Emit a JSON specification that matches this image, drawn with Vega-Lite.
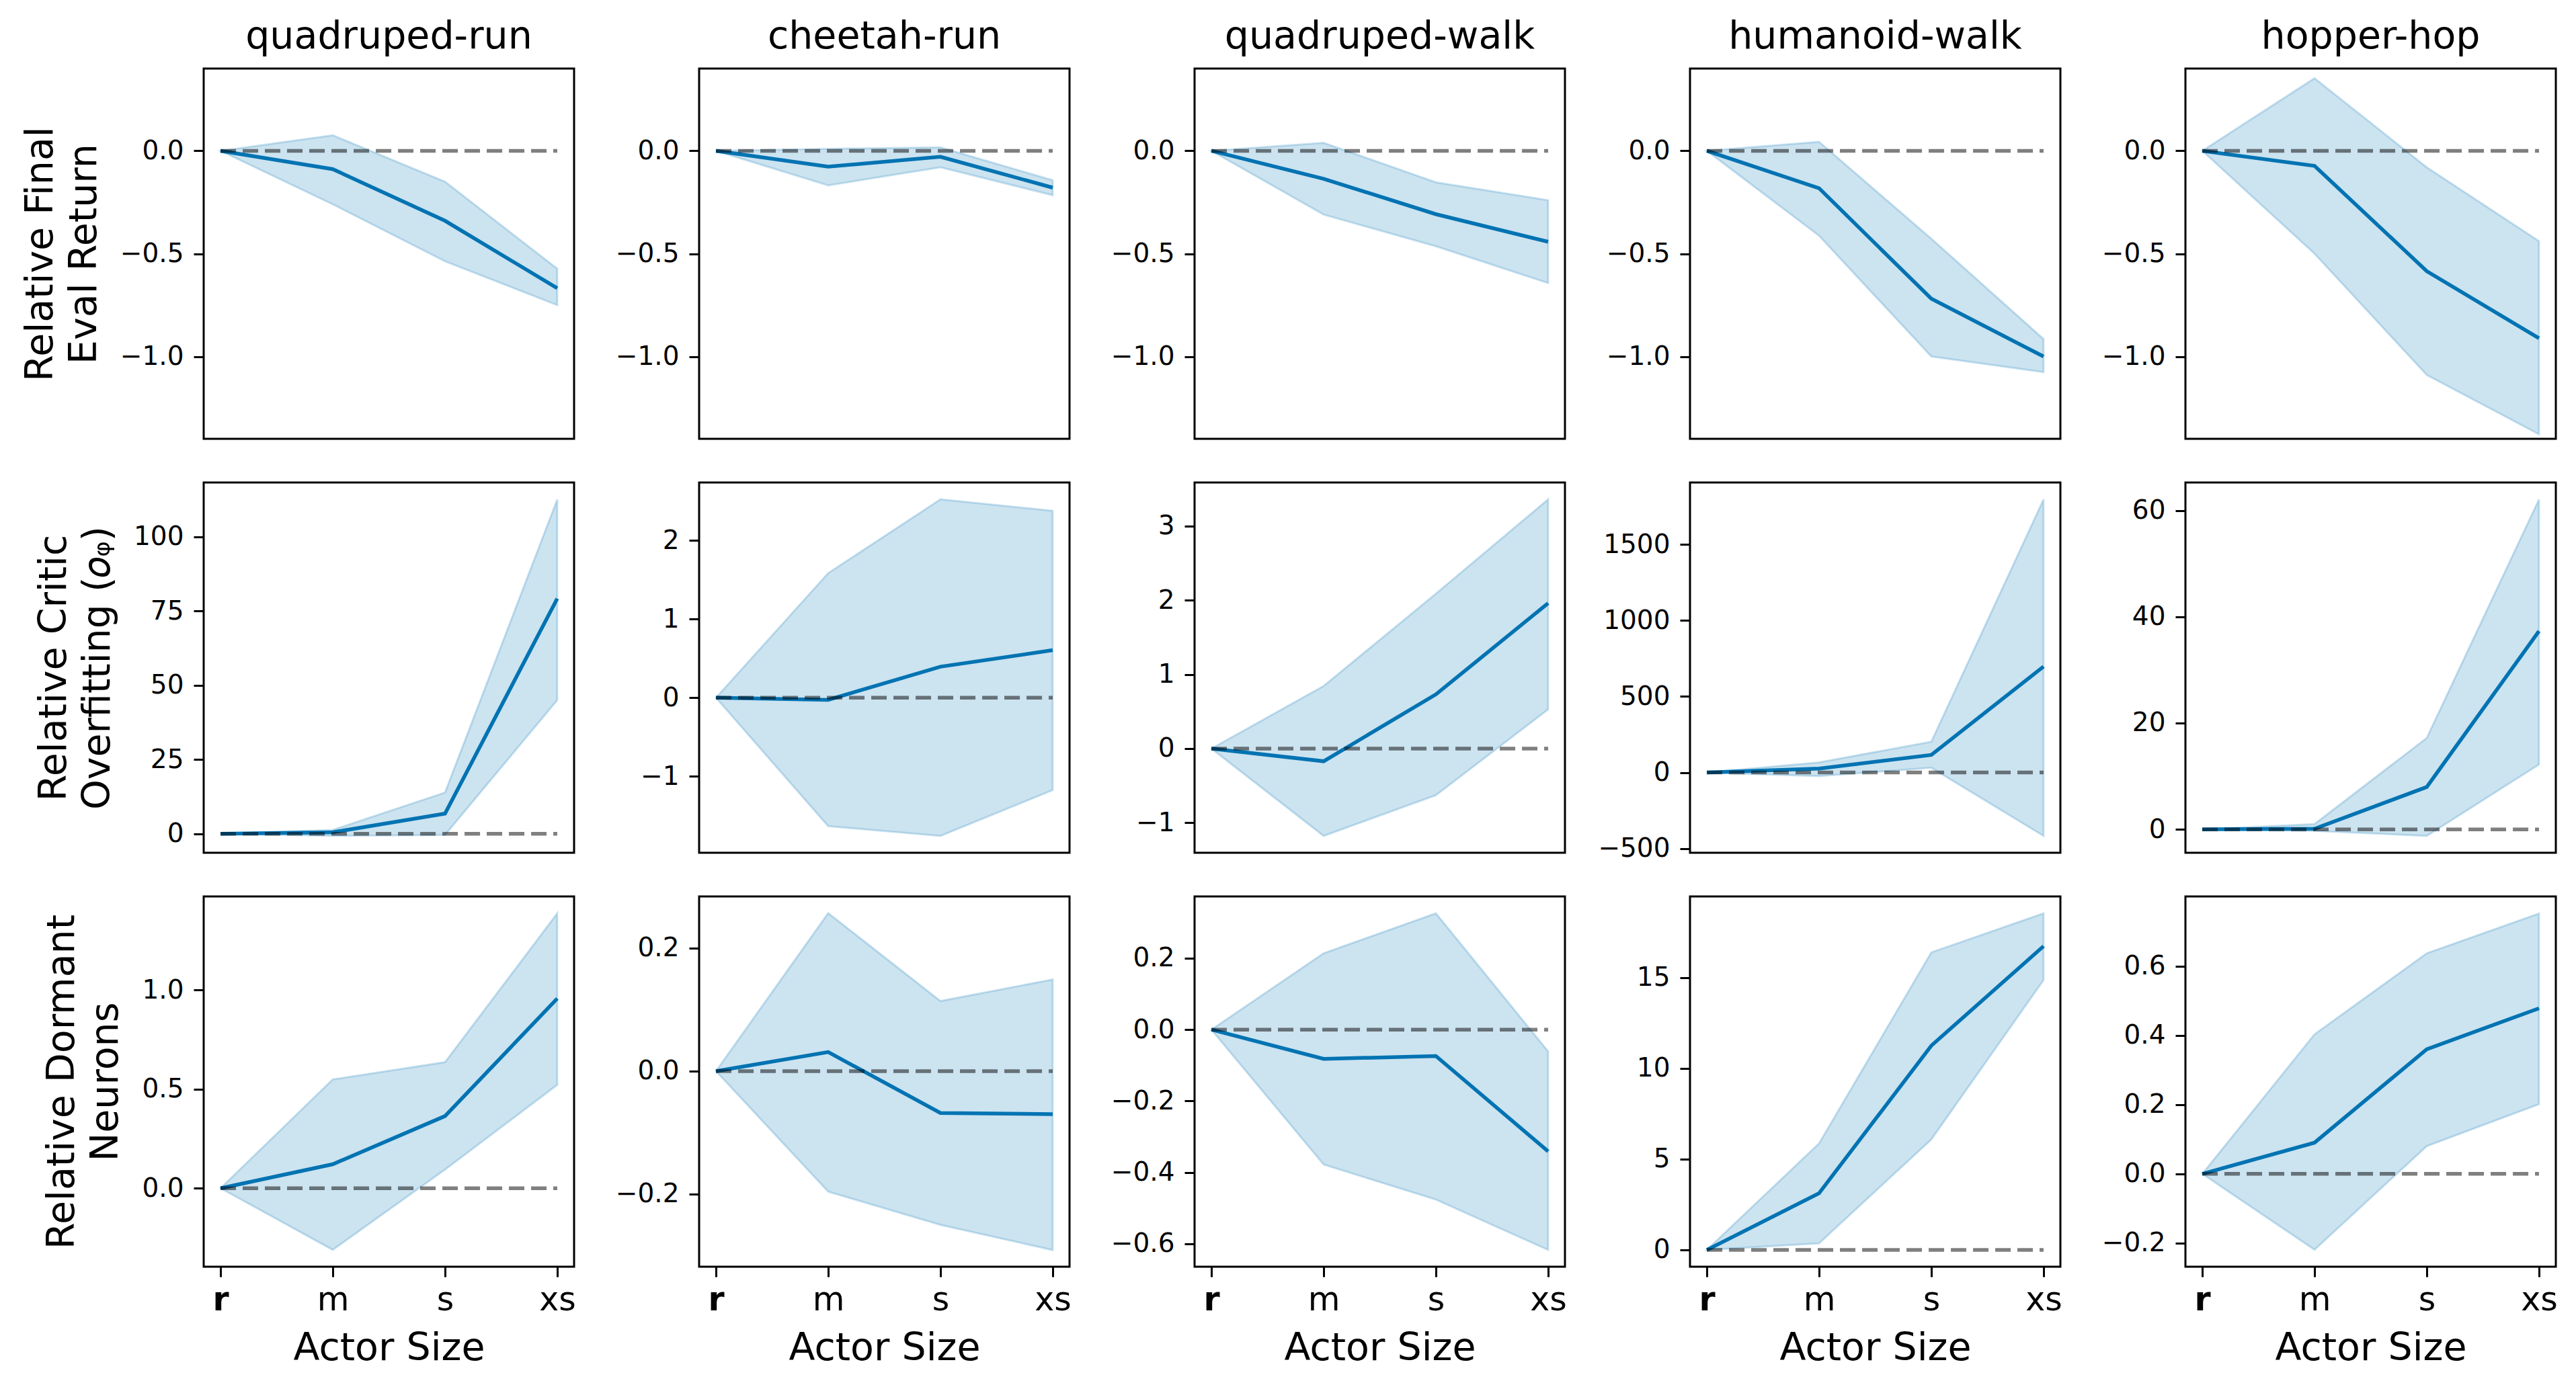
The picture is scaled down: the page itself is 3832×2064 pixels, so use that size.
{
  "$schema": "https://vega.github.io/schema/vega-lite/v6.json",
  "background": "white",
  "padding": {"left": 29, "top": 24, "right": 10, "bottom": 10},
  "data": {"values": [
    {"task": "quadruped-run", "metric": "ret", "size": "r", "mean": 0, "lo": 0, "hi": 0},
    {"task": "quadruped-run", "metric": "ret", "size": "m", "mean": -0.089, "lo": -0.26, "hi": 0.076},
    {"task": "quadruped-run", "metric": "ret", "size": "s", "mean": -0.34, "lo": -0.537, "hi": -0.15},
    {"task": "quadruped-run", "metric": "ret", "size": "xs", "mean": -0.668, "lo": -0.75, "hi": -0.573},
    {"task": "quadruped-run", "metric": "over", "size": "r", "mean": 0, "lo": 0, "hi": 0},
    {"task": "quadruped-run", "metric": "over", "size": "m", "mean": 0.5, "lo": -0.7, "hi": 1.3},
    {"task": "quadruped-run", "metric": "over", "size": "s", "mean": 6.8, "lo": -0.4, "hi": 13.9},
    {"task": "quadruped-run", "metric": "over", "size": "xs", "mean": 79.2, "lo": 45, "hi": 112.6},
    {"task": "quadruped-run", "metric": "dorm", "size": "r", "mean": 0, "lo": 0, "hi": 0},
    {"task": "quadruped-run", "metric": "dorm", "size": "m", "mean": 0.121, "lo": -0.311, "hi": 0.549},
    {"task": "quadruped-run", "metric": "dorm", "size": "s", "mean": 0.364, "lo": 0.094, "hi": 0.636},
    {"task": "quadruped-run", "metric": "dorm", "size": "xs", "mean": 0.957, "lo": 0.521, "hi": 1.387},
    {"task": "cheetah-run", "metric": "ret", "size": "r", "mean": 0, "lo": 0, "hi": 0},
    {"task": "cheetah-run", "metric": "ret", "size": "m", "mean": -0.077, "lo": -0.168, "hi": 0.01},
    {"task": "cheetah-run", "metric": "ret", "size": "s", "mean": -0.029, "lo": -0.08, "hi": 0.017},
    {"task": "cheetah-run", "metric": "ret", "size": "xs", "mean": -0.179, "lo": -0.216, "hi": -0.143},
    {"task": "cheetah-run", "metric": "over", "size": "r", "mean": 0, "lo": 0, "hi": 0},
    {"task": "cheetah-run", "metric": "over", "size": "m", "mean": -0.027, "lo": -1.636, "hi": 1.586},
    {"task": "cheetah-run", "metric": "over", "size": "s", "mean": 0.395, "lo": -1.759, "hi": 2.525},
    {"task": "cheetah-run", "metric": "over", "size": "xs", "mean": 0.605, "lo": -1.176, "hi": 2.379},
    {"task": "cheetah-run", "metric": "dorm", "size": "r", "mean": 0, "lo": 0, "hi": 0},
    {"task": "cheetah-run", "metric": "dorm", "size": "m", "mean": 0.031, "lo": -0.196, "hi": 0.257},
    {"task": "cheetah-run", "metric": "dorm", "size": "s", "mean": -0.068, "lo": -0.25, "hi": 0.114},
    {"task": "cheetah-run", "metric": "dorm", "size": "xs", "mean": -0.07, "lo": -0.291, "hi": 0.149},
    {"task": "quadruped-walk", "metric": "ret", "size": "r", "mean": 0, "lo": 0, "hi": 0},
    {"task": "quadruped-walk", "metric": "ret", "size": "m", "mean": -0.136, "lo": -0.31, "hi": 0.039},
    {"task": "quadruped-walk", "metric": "ret", "size": "s", "mean": -0.308, "lo": -0.464, "hi": -0.153},
    {"task": "quadruped-walk", "metric": "ret", "size": "xs", "mean": -0.442, "lo": -0.643, "hi": -0.24},
    {"task": "quadruped-walk", "metric": "over", "size": "r", "mean": 0, "lo": 0, "hi": 0},
    {"task": "quadruped-walk", "metric": "over", "size": "m", "mean": -0.171, "lo": -1.178, "hi": 0.845},
    {"task": "quadruped-walk", "metric": "over", "size": "s", "mean": 0.731, "lo": -0.629, "hi": 2.09},
    {"task": "quadruped-walk", "metric": "over", "size": "xs", "mean": 1.961, "lo": 0.528, "hi": 3.362},
    {"task": "quadruped-walk", "metric": "dorm", "size": "r", "mean": 0, "lo": 0, "hi": 0},
    {"task": "quadruped-walk", "metric": "dorm", "size": "m", "mean": -0.082, "lo": -0.378, "hi": 0.214},
    {"task": "quadruped-walk", "metric": "dorm", "size": "s", "mean": -0.074, "lo": -0.476, "hi": 0.326},
    {"task": "quadruped-walk", "metric": "dorm", "size": "xs", "mean": -0.341, "lo": -0.617, "hi": -0.061},
    {"task": "humanoid-walk", "metric": "ret", "size": "r", "mean": 0, "lo": 0, "hi": 0},
    {"task": "humanoid-walk", "metric": "ret", "size": "m", "mean": -0.182, "lo": -0.413, "hi": 0.044},
    {"task": "humanoid-walk", "metric": "ret", "size": "s", "mean": -0.719, "lo": -1.0, "hi": -0.427},
    {"task": "humanoid-walk", "metric": "ret", "size": "xs", "mean": -1.0, "lo": -1.076, "hi": -0.915},
    {"task": "humanoid-walk", "metric": "over", "size": "r", "mean": 0, "lo": 0, "hi": 0},
    {"task": "humanoid-walk", "metric": "over", "size": "m", "mean": 26, "lo": -24, "hi": 67},
    {"task": "humanoid-walk", "metric": "over", "size": "s", "mean": 116, "lo": 31, "hi": 203},
    {"task": "humanoid-walk", "metric": "over", "size": "xs", "mean": 697, "lo": -417, "hi": 1797},
    {"task": "humanoid-walk", "metric": "dorm", "size": "r", "mean": 0, "lo": 0, "hi": 0},
    {"task": "humanoid-walk", "metric": "dorm", "size": "m", "mean": 3.12, "lo": 0.36, "hi": 5.87},
    {"task": "humanoid-walk", "metric": "dorm", "size": "s", "mean": 11.25, "lo": 6.08, "hi": 16.39},
    {"task": "humanoid-walk", "metric": "dorm", "size": "xs", "mean": 16.73, "lo": 14.86, "hi": 18.54},
    {"task": "hopper-hop", "metric": "ret", "size": "r", "mean": 0, "lo": 0, "hi": 0},
    {"task": "hopper-hop", "metric": "ret", "size": "m", "mean": -0.073, "lo": -0.5, "hi": 0.353},
    {"task": "hopper-hop", "metric": "ret", "size": "s", "mean": -0.585, "lo": -1.09, "hi": -0.08},
    {"task": "hopper-hop", "metric": "ret", "size": "xs", "mean": -0.911, "lo": -1.378, "hi": -0.439},
    {"task": "hopper-hop", "metric": "over", "size": "r", "mean": 0, "lo": 0, "hi": 0},
    {"task": "hopper-hop", "metric": "over", "size": "m", "mean": 0.1, "lo": -0.3, "hi": 1.0},
    {"task": "hopper-hop", "metric": "over", "size": "s", "mean": 7.97, "lo": -1.24, "hi": 17.2},
    {"task": "hopper-hop", "metric": "over", "size": "xs", "mean": 37.3, "lo": 12.2, "hi": 62.1},
    {"task": "hopper-hop", "metric": "dorm", "size": "r", "mean": 0, "lo": 0, "hi": 0},
    {"task": "hopper-hop", "metric": "dorm", "size": "m", "mean": 0.09, "lo": -0.219, "hi": 0.403},
    {"task": "hopper-hop", "metric": "dorm", "size": "s", "mean": 0.36, "lo": 0.08, "hi": 0.637},
    {"task": "hopper-hop", "metric": "dorm", "size": "xs", "mean": 0.478, "lo": 0.201, "hi": 0.752}
  ]},
  "columns": 5,
  "spacing": {"row": 65, "column": 186},
  "bounds": "flush",
  "concat": [
    {"width": 551, "height": 551, "title": "quadruped-run",
     "transform": [{"filter": "datum.task === 'quadruped-run' && datum.metric === 'ret'"}],
     "encoding": {"x": {"field": "size", "type": "ordinal", "sort": ["r", "m", "s", "xs"], "scale": {"type": "point", "padding": 0.15}, "axis": null}},
     "layer": [
       {"mark": {"type": "area", "fill": "#0173b2", "fillOpacity": 0.2, "stroke": "#0173b2", "strokeOpacity": 0.2, "strokeWidth": 3},
        "encoding": {"y": {"field": "lo", "type": "quantitative", "title": ["Relative Final", "Eval Return"], "scale": {"domain": [-1.4, 0.4], "nice": false, "zero": false}, "axis": {"values": [-1, -0.5, 0], "format": ".1f"}}, "y2": {"field": "hi"}}},
       {"mark": {"type": "line", "color": "#0173b2", "strokeWidth": 5.5}, "encoding": {"y": {"field": "mean", "type": "quantitative", "title": ["Relative Final", "Eval Return"]}}},
       {"mark": {"type": "line", "color": "black", "opacity": 0.5, "strokeWidth": 5.5, "strokeDash": [23, 10]}, "encoding": {"y": {"datum": 0}}}
     ]},
    {"width": 551, "height": 551, "title": "cheetah-run",
     "transform": [{"filter": "datum.task === 'cheetah-run' && datum.metric === 'ret'"}],
     "encoding": {"x": {"field": "size", "type": "ordinal", "sort": ["r", "m", "s", "xs"], "scale": {"type": "point", "padding": 0.15}, "axis": null}},
     "layer": [
       {"mark": {"type": "area", "fill": "#0173b2", "fillOpacity": 0.2, "stroke": "#0173b2", "strokeOpacity": 0.2, "strokeWidth": 3},
        "encoding": {"y": {"field": "lo", "type": "quantitative", "title": null, "scale": {"domain": [-1.4, 0.4], "nice": false, "zero": false}, "axis": {"values": [-1, -0.5, 0], "format": ".1f"}}, "y2": {"field": "hi"}}},
       {"mark": {"type": "line", "color": "#0173b2", "strokeWidth": 5.5}, "encoding": {"y": {"field": "mean", "type": "quantitative", "title": null}}},
       {"mark": {"type": "line", "color": "black", "opacity": 0.5, "strokeWidth": 5.5, "strokeDash": [23, 10]}, "encoding": {"y": {"datum": 0}}}
     ]},
    {"width": 551, "height": 551, "title": "quadruped-walk",
     "transform": [{"filter": "datum.task === 'quadruped-walk' && datum.metric === 'ret'"}],
     "encoding": {"x": {"field": "size", "type": "ordinal", "sort": ["r", "m", "s", "xs"], "scale": {"type": "point", "padding": 0.15}, "axis": null}},
     "layer": [
       {"mark": {"type": "area", "fill": "#0173b2", "fillOpacity": 0.2, "stroke": "#0173b2", "strokeOpacity": 0.2, "strokeWidth": 3},
        "encoding": {"y": {"field": "lo", "type": "quantitative", "title": null, "scale": {"domain": [-1.4, 0.4], "nice": false, "zero": false}, "axis": {"values": [-1, -0.5, 0], "format": ".1f"}}, "y2": {"field": "hi"}}},
       {"mark": {"type": "line", "color": "#0173b2", "strokeWidth": 5.5}, "encoding": {"y": {"field": "mean", "type": "quantitative", "title": null}}},
       {"mark": {"type": "line", "color": "black", "opacity": 0.5, "strokeWidth": 5.5, "strokeDash": [23, 10]}, "encoding": {"y": {"datum": 0}}}
     ]},
    {"width": 551, "height": 551, "title": "humanoid-walk",
     "transform": [{"filter": "datum.task === 'humanoid-walk' && datum.metric === 'ret'"}],
     "encoding": {"x": {"field": "size", "type": "ordinal", "sort": ["r", "m", "s", "xs"], "scale": {"type": "point", "padding": 0.15}, "axis": null}},
     "layer": [
       {"mark": {"type": "area", "fill": "#0173b2", "fillOpacity": 0.2, "stroke": "#0173b2", "strokeOpacity": 0.2, "strokeWidth": 3},
        "encoding": {"y": {"field": "lo", "type": "quantitative", "title": null, "scale": {"domain": [-1.4, 0.4], "nice": false, "zero": false}, "axis": {"values": [-1, -0.5, 0], "format": ".1f"}}, "y2": {"field": "hi"}}},
       {"mark": {"type": "line", "color": "#0173b2", "strokeWidth": 5.5}, "encoding": {"y": {"field": "mean", "type": "quantitative", "title": null}}},
       {"mark": {"type": "line", "color": "black", "opacity": 0.5, "strokeWidth": 5.5, "strokeDash": [23, 10]}, "encoding": {"y": {"datum": 0}}}
     ]},
    {"width": 551, "height": 551, "title": "hopper-hop",
     "transform": [{"filter": "datum.task === 'hopper-hop' && datum.metric === 'ret'"}],
     "encoding": {"x": {"field": "size", "type": "ordinal", "sort": ["r", "m", "s", "xs"], "scale": {"type": "point", "padding": 0.15}, "axis": null}},
     "layer": [
       {"mark": {"type": "area", "fill": "#0173b2", "fillOpacity": 0.2, "stroke": "#0173b2", "strokeOpacity": 0.2, "strokeWidth": 3},
        "encoding": {"y": {"field": "lo", "type": "quantitative", "title": null, "scale": {"domain": [-1.4, 0.4], "nice": false, "zero": false}, "axis": {"values": [-1, -0.5, 0], "format": ".1f"}}, "y2": {"field": "hi"}}},
       {"mark": {"type": "line", "color": "#0173b2", "strokeWidth": 5.5}, "encoding": {"y": {"field": "mean", "type": "quantitative", "title": null}}},
       {"mark": {"type": "line", "color": "black", "opacity": 0.5, "strokeWidth": 5.5, "strokeDash": [23, 10]}, "encoding": {"y": {"datum": 0}}}
     ]},
    {"width": 551, "height": 551,
     "transform": [{"filter": "datum.task === 'quadruped-run' && datum.metric === 'over'"}],
     "encoding": {"x": {"field": "size", "type": "ordinal", "sort": ["r", "m", "s", "xs"], "scale": {"type": "point", "padding": 0.15}, "axis": null}},
     "layer": [
       {"mark": {"type": "area", "fill": "#0173b2", "fillOpacity": 0.2, "stroke": "#0173b2", "strokeOpacity": 0.2, "strokeWidth": 3},
        "encoding": {"y": {"field": "lo", "type": "quantitative", "title": ["Relative Critic", "Overfitting (𝑜ᵩ)"], "scale": {"domain": [-6.4, 118.3], "nice": false, "zero": false}, "axis": {"values": [0, 25, 50, 75, 100], "format": "d"}}, "y2": {"field": "hi"}}},
       {"mark": {"type": "line", "color": "#0173b2", "strokeWidth": 5.5}, "encoding": {"y": {"field": "mean", "type": "quantitative", "title": ["Relative Critic", "Overfitting (𝑜ᵩ)"]}}},
       {"mark": {"type": "line", "color": "black", "opacity": 0.5, "strokeWidth": 5.5, "strokeDash": [23, 10]}, "encoding": {"y": {"datum": 0}}}
     ]},
    {"width": 551, "height": 551,
     "transform": [{"filter": "datum.task === 'cheetah-run' && datum.metric === 'over'"}],
     "encoding": {"x": {"field": "size", "type": "ordinal", "sort": ["r", "m", "s", "xs"], "scale": {"type": "point", "padding": 0.15}, "axis": null}},
     "layer": [
       {"mark": {"type": "area", "fill": "#0173b2", "fillOpacity": 0.2, "stroke": "#0173b2", "strokeOpacity": 0.2, "strokeWidth": 3},
        "encoding": {"y": {"field": "lo", "type": "quantitative", "title": null, "scale": {"domain": [-1.973, 2.739], "nice": false, "zero": false}, "axis": {"values": [-1, 0, 1, 2], "format": "d"}}, "y2": {"field": "hi"}}},
       {"mark": {"type": "line", "color": "#0173b2", "strokeWidth": 5.5}, "encoding": {"y": {"field": "mean", "type": "quantitative", "title": null}}},
       {"mark": {"type": "line", "color": "black", "opacity": 0.5, "strokeWidth": 5.5, "strokeDash": [23, 10]}, "encoding": {"y": {"datum": 0}}}
     ]},
    {"width": 551, "height": 551,
     "transform": [{"filter": "datum.task === 'quadruped-walk' && datum.metric === 'over'"}],
     "encoding": {"x": {"field": "size", "type": "ordinal", "sort": ["r", "m", "s", "xs"], "scale": {"type": "point", "padding": 0.15}, "axis": null}},
     "layer": [
       {"mark": {"type": "area", "fill": "#0173b2", "fillOpacity": 0.2, "stroke": "#0173b2", "strokeOpacity": 0.2, "strokeWidth": 3},
        "encoding": {"y": {"field": "lo", "type": "quantitative", "title": null, "scale": {"domain": [-1.405, 3.589], "nice": false, "zero": false}, "axis": {"values": [-1, 0, 1, 2, 3], "format": "d"}}, "y2": {"field": "hi"}}},
       {"mark": {"type": "line", "color": "#0173b2", "strokeWidth": 5.5}, "encoding": {"y": {"field": "mean", "type": "quantitative", "title": null}}},
       {"mark": {"type": "line", "color": "black", "opacity": 0.5, "strokeWidth": 5.5, "strokeDash": [23, 10]}, "encoding": {"y": {"datum": 0}}}
     ]},
    {"width": 551, "height": 551,
     "transform": [{"filter": "datum.task === 'humanoid-walk' && datum.metric === 'over'"}],
     "encoding": {"x": {"field": "size", "type": "ordinal", "sort": ["r", "m", "s", "xs"], "scale": {"type": "point", "padding": 0.15}, "axis": null}},
     "layer": [
       {"mark": {"type": "area", "fill": "#0173b2", "fillOpacity": 0.2, "stroke": "#0173b2", "strokeOpacity": 0.2, "strokeWidth": 3},
        "encoding": {"y": {"field": "lo", "type": "quantitative", "title": null, "scale": {"domain": [-527.7, 1907.7], "nice": false, "zero": false}, "axis": {"values": [-500, 0, 500, 1000, 1500], "format": "d"}}, "y2": {"field": "hi"}}},
       {"mark": {"type": "line", "color": "#0173b2", "strokeWidth": 5.5}, "encoding": {"y": {"field": "mean", "type": "quantitative", "title": null}}},
       {"mark": {"type": "line", "color": "black", "opacity": 0.5, "strokeWidth": 5.5, "strokeDash": [23, 10]}, "encoding": {"y": {"datum": 0}}}
     ]},
    {"width": 551, "height": 551,
     "transform": [{"filter": "datum.task === 'hopper-hop' && datum.metric === 'over'"}],
     "encoding": {"x": {"field": "size", "type": "ordinal", "sort": ["r", "m", "s", "xs"], "scale": {"type": "point", "padding": 0.15}, "axis": null}},
     "layer": [
       {"mark": {"type": "area", "fill": "#0173b2", "fillOpacity": 0.2, "stroke": "#0173b2", "strokeOpacity": 0.2, "strokeWidth": 3},
        "encoding": {"y": {"field": "lo", "type": "quantitative", "title": null, "scale": {"domain": [-4.41, 65.27], "nice": false, "zero": false}, "axis": {"values": [0, 20, 40, 60], "format": "d"}}, "y2": {"field": "hi"}}},
       {"mark": {"type": "line", "color": "#0173b2", "strokeWidth": 5.5}, "encoding": {"y": {"field": "mean", "type": "quantitative", "title": null}}},
       {"mark": {"type": "line", "color": "black", "opacity": 0.5, "strokeWidth": 5.5, "strokeDash": [23, 10]}, "encoding": {"y": {"datum": 0}}}
     ]},
    {"width": 551, "height": 551,
     "transform": [{"filter": "datum.task === 'quadruped-run' && datum.metric === 'dorm'"}],
     "encoding": {"x": {"field": "size", "type": "ordinal", "sort": ["r", "m", "s", "xs"], "scale": {"type": "point", "padding": 0.15}, "axis": {"title": "Actor Size", "labelAngle": 0, "labelFontSize": 49, "labelPadding": 10, "titlePadding": 19, "labelFontWeight": {"condition": {"test": "datum.value === 'r'", "value": "bold"}, "value": "normal"}}}},
     "layer": [
       {"mark": {"type": "area", "fill": "#0173b2", "fillOpacity": 0.2, "stroke": "#0173b2", "strokeOpacity": 0.2, "strokeWidth": 3},
        "encoding": {"y": {"field": "lo", "type": "quantitative", "title": ["Relative Dormant", "Neurons"], "scale": {"domain": [-0.396, 1.472], "nice": false, "zero": false}, "axis": {"values": [0, 0.5, 1], "format": ".1f"}}, "y2": {"field": "hi"}}},
       {"mark": {"type": "line", "color": "#0173b2", "strokeWidth": 5.5}, "encoding": {"y": {"field": "mean", "type": "quantitative", "title": ["Relative Dormant", "Neurons"]}}},
       {"mark": {"type": "line", "color": "black", "opacity": 0.5, "strokeWidth": 5.5, "strokeDash": [23, 10]}, "encoding": {"y": {"datum": 0}}}
     ]},
    {"width": 551, "height": 551,
     "transform": [{"filter": "datum.task === 'cheetah-run' && datum.metric === 'dorm'"}],
     "encoding": {"x": {"field": "size", "type": "ordinal", "sort": ["r", "m", "s", "xs"], "scale": {"type": "point", "padding": 0.15}, "axis": {"title": "Actor Size", "labelAngle": 0, "labelFontSize": 49, "labelPadding": 10, "titlePadding": 19, "labelFontWeight": {"condition": {"test": "datum.value === 'r'", "value": "bold"}, "value": "normal"}}}},
     "layer": [
       {"mark": {"type": "area", "fill": "#0173b2", "fillOpacity": 0.2, "stroke": "#0173b2", "strokeOpacity": 0.2, "strokeWidth": 3},
        "encoding": {"y": {"field": "lo", "type": "quantitative", "title": null, "scale": {"domain": [-0.318, 0.284], "nice": false, "zero": false}, "axis": {"values": [-0.2, 0, 0.2], "format": ".1f"}}, "y2": {"field": "hi"}}},
       {"mark": {"type": "line", "color": "#0173b2", "strokeWidth": 5.5}, "encoding": {"y": {"field": "mean", "type": "quantitative", "title": null}}},
       {"mark": {"type": "line", "color": "black", "opacity": 0.5, "strokeWidth": 5.5, "strokeDash": [23, 10]}, "encoding": {"y": {"datum": 0}}}
     ]},
    {"width": 551, "height": 551,
     "transform": [{"filter": "datum.task === 'quadruped-walk' && datum.metric === 'dorm'"}],
     "encoding": {"x": {"field": "size", "type": "ordinal", "sort": ["r", "m", "s", "xs"], "scale": {"type": "point", "padding": 0.15}, "axis": {"title": "Actor Size", "labelAngle": 0, "labelFontSize": 49, "labelPadding": 10, "titlePadding": 19, "labelFontWeight": {"condition": {"test": "datum.value === 'r'", "value": "bold"}, "value": "normal"}}}},
     "layer": [
       {"mark": {"type": "area", "fill": "#0173b2", "fillOpacity": 0.2, "stroke": "#0173b2", "strokeOpacity": 0.2, "strokeWidth": 3},
        "encoding": {"y": {"field": "lo", "type": "quantitative", "title": null, "scale": {"domain": [-0.664, 0.373], "nice": false, "zero": false}, "axis": {"values": [-0.6, -0.4, -0.2, 0, 0.2], "format": ".1f"}}, "y2": {"field": "hi"}}},
       {"mark": {"type": "line", "color": "#0173b2", "strokeWidth": 5.5}, "encoding": {"y": {"field": "mean", "type": "quantitative", "title": null}}},
       {"mark": {"type": "line", "color": "black", "opacity": 0.5, "strokeWidth": 5.5, "strokeDash": [23, 10]}, "encoding": {"y": {"datum": 0}}}
     ]},
    {"width": 551, "height": 551,
     "transform": [{"filter": "datum.task === 'humanoid-walk' && datum.metric === 'dorm'"}],
     "encoding": {"x": {"field": "size", "type": "ordinal", "sort": ["r", "m", "s", "xs"], "scale": {"type": "point", "padding": 0.15}, "axis": {"title": "Actor Size", "labelAngle": 0, "labelFontSize": 49, "labelPadding": 10, "titlePadding": 19, "labelFontWeight": {"condition": {"test": "datum.value === 'r'", "value": "bold"}, "value": "normal"}}}},
     "layer": [
       {"mark": {"type": "area", "fill": "#0173b2", "fillOpacity": 0.2, "stroke": "#0173b2", "strokeOpacity": 0.2, "strokeWidth": 3},
        "encoding": {"y": {"field": "lo", "type": "quantitative", "title": null, "scale": {"domain": [-0.927, 19.47], "nice": false, "zero": false}, "axis": {"values": [0, 5, 10, 15], "format": "d"}}, "y2": {"field": "hi"}}},
       {"mark": {"type": "line", "color": "#0173b2", "strokeWidth": 5.5}, "encoding": {"y": {"field": "mean", "type": "quantitative", "title": null}}},
       {"mark": {"type": "line", "color": "black", "opacity": 0.5, "strokeWidth": 5.5, "strokeDash": [23, 10]}, "encoding": {"y": {"datum": 0}}}
     ]},
    {"width": 551, "height": 551,
     "transform": [{"filter": "datum.task === 'hopper-hop' && datum.metric === 'dorm'"}],
     "encoding": {"x": {"field": "size", "type": "ordinal", "sort": ["r", "m", "s", "xs"], "scale": {"type": "point", "padding": 0.15}, "axis": {"title": "Actor Size", "labelAngle": 0, "labelFontSize": 49, "labelPadding": 10, "titlePadding": 19, "labelFontWeight": {"condition": {"test": "datum.value === 'r'", "value": "bold"}, "value": "normal"}}}},
     "layer": [
       {"mark": {"type": "area", "fill": "#0173b2", "fillOpacity": 0.2, "stroke": "#0173b2", "strokeOpacity": 0.2, "strokeWidth": 3},
        "encoding": {"y": {"field": "lo", "type": "quantitative", "title": null, "scale": {"domain": [-0.268, 0.801], "nice": false, "zero": false}, "axis": {"values": [-0.2, 0, 0.2, 0.4, 0.6], "format": ".1f"}}, "y2": {"field": "hi"}}},
       {"mark": {"type": "line", "color": "#0173b2", "strokeWidth": 5.5}, "encoding": {"y": {"field": "mean", "type": "quantitative", "title": null}}},
       {"mark": {"type": "line", "color": "black", "opacity": 0.5, "strokeWidth": 5.5, "strokeDash": [23, 10]}, "encoding": {"y": {"datum": 0}}}
     ]}
  ],
  "config": {
    "font": "DejaVu Sans",
    "view": {"stroke": "black", "strokeWidth": 3},
    "axis": {"domain": false, "grid": false, "ticks": true, "tickSize": 15, "tickWidth": 3, "tickColor": "black",
             "labelFont": "DejaVu Sans", "labelFontSize": 39, "labelColor": "black", "labelPadding": 15,
             "titleFont": "DejaVu Sans", "titleFontSize": 57, "titleFontWeight": "normal", "titleColor": "black", "titlePadding": 24, "titleLineHeight": 65},
    "title": {"font": "DejaVu Sans", "fontSize": 57, "fontWeight": "normal", "color": "black", "offset": 18}
  }
}
